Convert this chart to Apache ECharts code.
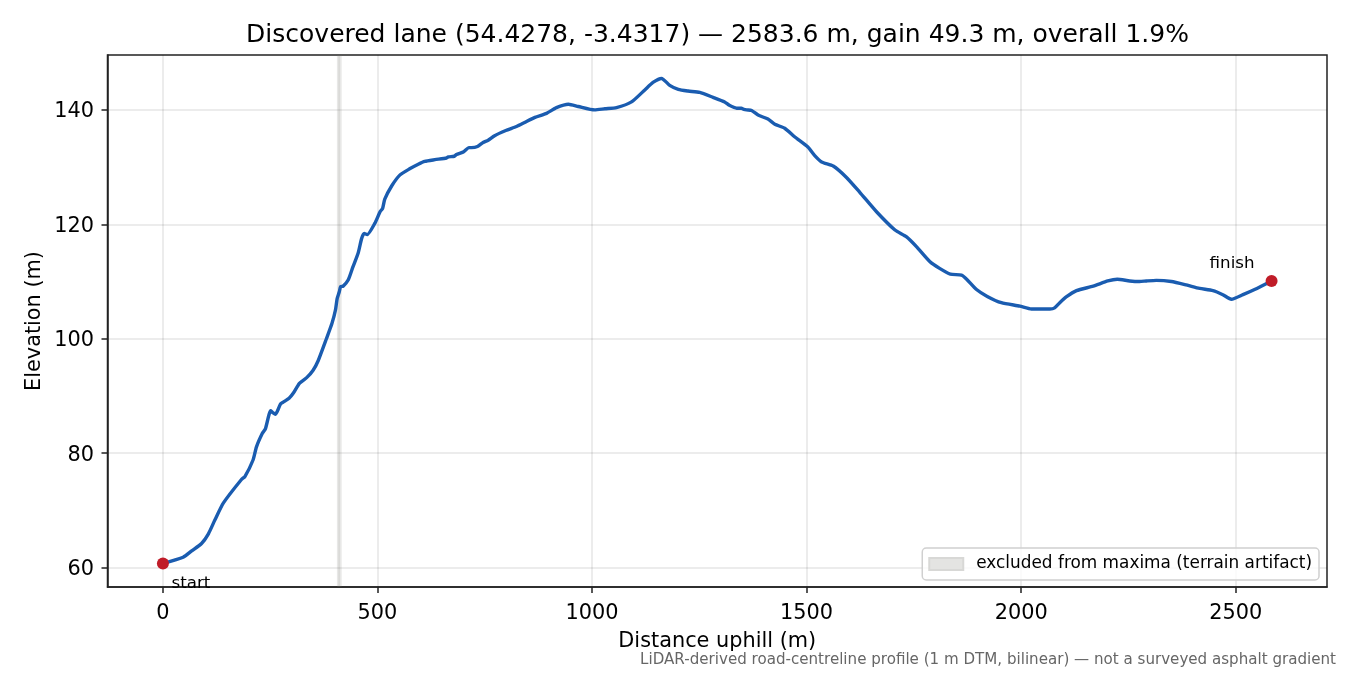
<!DOCTYPE html>
<html><head><meta charset="utf-8">
<style>html,body{margin:0;padding:0;background:#fff}#c{width:1350px;height:675px}</style>
<script src="https://cdn.jsdelivr.net/npm/echarts@6/dist/echarts.min.js"></script>
</head><body><div id="c"></div>
<script>
const distance = [0,47,67,90,106,121,141,183,191,210,218,232,239,251,256,262,267,274,282,294,304,318,335,350,362,381,394,402,406,411,414,420,432,443,455,463,469,476,494,506,512,517,533,552,575,595,610,634,661,665,679,684,701,713,719,733,746,758,773,799,824,843,867,894,917,945,968,1006,1030,1057,1092,1123,1142,1162,1181,1201,1224,1251,1282,1309,1320,1337,1348,1354,1360,1372,1387,1410,1426,1449,1472,1503,1519,1535,1562,1593,1624,1663,1706,1733,1756,1787,1810,1835,1861,1873,1896,1921,1954,1997,2024,2067,2078,2090,2105,2129,2168,2202,2224,2253,2276,2292,2315,2350,2385,2416,2447,2470,2490,2517,2544,2583.6];
const elevation = [60.7,61.8,62.9,64.2,65.9,68.3,71.3,75.4,75.9,78.8,81.1,83.5,84.3,87.4,87.1,86.8,87.4,88.6,89,89.6,90.5,92.2,93.2,94.5,96.2,100,102.7,105,107,108.2,109.1,109.2,110.3,112.6,115,117.5,118.4,118.2,120.2,122.2,122.8,124.4,126.7,128.6,129.7,130.5,131,131.3,131.6,131.8,131.9,132.2,132.7,133.4,133.4,133.6,134.3,134.7,135.5,136.4,137.1,137.8,138.7,139.4,140.4,141,140.6,140,140.2,140.4,141.4,143.5,144.8,145.5,144.3,143.6,143.3,143.05,142.2,141.4,140.8,140.3,140.3,140.1,140,139.9,139.1,138.4,137.5,136.8,135.3,133.5,132,130.9,130.2,128.2,125.6,122.2,119,117.8,116.1,113.5,112.3,111.3,111.1,110.4,108.6,107.4,106.3,105.7,105.2,105.2,105.4,106.3,107.3,108.4,109.2,110.1,110.4,110.1,110,110.1,110.2,110,109.4,108.8,108.4,107.7,106.9,107.7,108.6,110.1];
const excludedStart = [405.5,409];
const excludedEnd = [412,416.5];
const xTicks = [0,500,1000,1500,2000,2500];
const yTicks = [60,80,100,120,140];
const endpointNames = ['start','finish'];
const endpointX = [0,2583.6];
const endpointY = [60.7,110.1];
const titleText = 'Discovered lane (54.4278, -3.4317) — 2583.6 m, gain 49.3 m, overall 1.9%';
const captionText = 'LiDAR-derived road-centreline profile (1 m DTM, bilinear) — not a surveyed asphalt gradient';
const legendName = 'excluded from maxima (terrain artifact)';

const FONT = '"DejaVu Sans"';
const GRID = 'rgba(0,0,0,0.1)';
const INK = '#000';
const chart = echarts.init(document.getElementById('c'), null, {renderer:'canvas'});
function axis(extra, ticks, margin, labelExtra){
  return Object.assign({
    type:'value', nameLocation:'middle',
    nameTextStyle:{fontFamily:FONT,fontSize:20.83,color:INK},
    axisLine:{show:true,onZero:false,lineStyle:{color:'#222',width:1.5}},
    axisTick:{show:true,length:6,customValues:ticks,lineStyle:{color:'#222',width:1.5}},
    axisLabel:Object.assign({customValues:ticks,formatter:v=>String(v),fontFamily:FONT,fontSize:20.83,color:INK,margin:margin},labelExtra),
    splitLine:{show:true,lineStyle:{color:GRID,width:1.5}}
  },extra);
}
const labelPlacement = [
  {position:'bottom',offset:[28,1]},
  {position:'top',offset:[-39.5,2]}
];
chart.setOption({
  animation:false,
  backgroundColor:'#fff',
  textStyle:{fontFamily:FONT},
  title:[
    {text:titleText,left:717.5,top:22.5,textAlign:'center',padding:0,textStyle:{fontFamily:FONT,fontSize:25,fontWeight:'normal',color:INK}},
    {text:captionText,right:14,top:653,padding:0,textStyle:{fontFamily:FONT,fontSize:15.1,fontWeight:'normal',color:'#666'}}
  ],
  grid:{left:107.5,right:23,top:55,bottom:88,show:true,borderColor:'#222',borderWidth:1.5,backgroundColor:'transparent'},
  xAxis:axis({min:-129.18,max:2712.78,name:'Distance uphill (m)',nameGap:44.5},xTicks,16.5,{}),
  yAxis:axis({min:56.6,max:149.6,name:'Elevation (m)',nameGap:62,nameMoveOverlap:false},yTicks,13.5,{
    formatter:v=>'{a|'+v+'}',
    rich:{a:{fontFamily:FONT,fontSize:20.83,color:INK,padding:[4,0,0,0]}}
  }),
  legend:{
    data:[{name:legendName,icon:'rect'}],
    right:31,top:548,orient:'horizontal',
    padding:[7.5,7,7.5,6],itemWidth:34,itemHeight:12,
    backgroundColor:'rgba(255,255,255,0.8)',borderColor:'#d0d0d0',borderWidth:1.5,borderRadius:4,
    textStyle:{fontFamily:FONT,fontSize:16.9,color:INK,padding:[1,0,0,8]}
  },
  series:[
    {name:legendName,type:'scatter',data:[],z:1,
      itemStyle:{color:'#e4e4e2',borderColor:'#d8d8d6',borderWidth:1,opacity:1},
      markArea:{silent:true,z:1,itemStyle:{color:'rgba(120,120,115,0.17)',borderWidth:0},
        data:excludedStart.map((s,i)=>[{xAxis:s},{xAxis:excludedEnd[i]}])}},
    {name:'Elevation',type:'line',data:distance.map((d,i)=>[d,elevation[i]]),showSymbol:false,symbol:'none',z:3,
      smooth:0.2,
      lineStyle:{color:'#1a5cb0',width:3.4,join:'round'}},
    {name:'Endpoints',type:'scatter',symbolSize:12,z:4,clip:false,
      itemStyle:{color:'#c01c28',opacity:1},
      data:endpointNames.map((n,i)=>({name:n,value:[endpointX[i],endpointY[i]],
        label:Object.assign({show:true,formatter:'{b}',fontFamily:FONT,fontSize:16.67,color:INK,opacity:1},labelPlacement[i])}))}
  ]
});
</script></body></html>
